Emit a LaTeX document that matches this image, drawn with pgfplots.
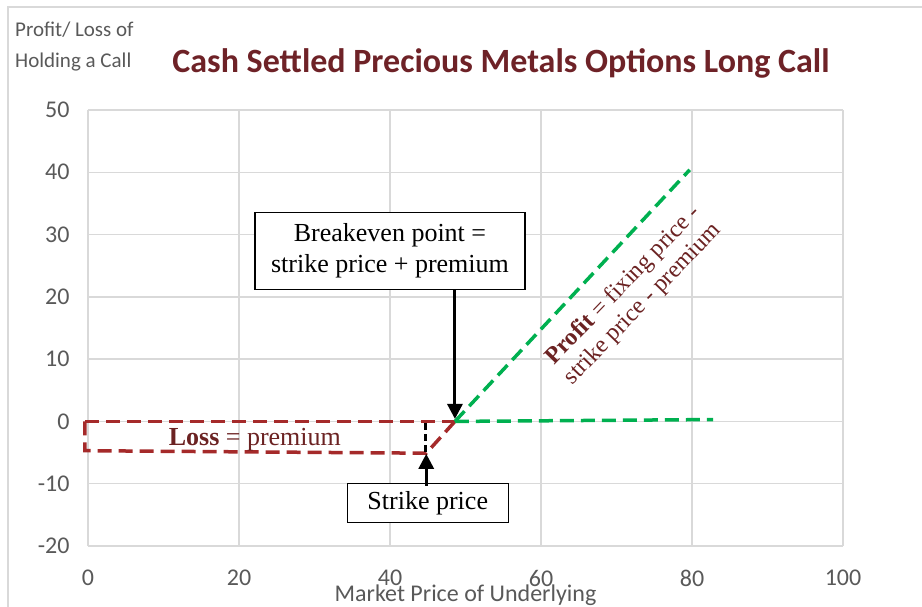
\documentclass[border=0pt]{standalone}
\usepackage{fontspec}
\setmainfont{Carlito}
\newfontfamily\serif{Liberation Serif}
\usepackage{pgfplots}
\pgfplotsset{compat=1.18}
\usetikzlibrary{arrows.meta}
\definecolor{gridgray}{HTML}{D9D9D9}
\definecolor{txtgray}{HTML}{595959}
\definecolor{titlered}{HTML}{6E2227}
\definecolor{lossred}{HTML}{A52A2A}
\definecolor{anntxt}{HTML}{6B2222}
\definecolor{pgreen}{HTML}{00B050}
\begin{document}
\begin{tikzpicture}
\path[use as bounding box] (0,0) rectangle (922bp,607bp);
\clip (0,0) rectangle (922bp,607bp);
\draw[gridgray, line width=1.5bp] (8bp,-10bp) -- (8bp,600bp) -- (940bp,600bp);
\node[font=\bfseries\fontsize{34bp}{40bp}\selectfont, text=titlered] at (501bp,544bp) {Cash Settled Precious Metals Options Long Call};
\node[font=\fontsize{21bp}{31bp}\selectfont, text=txtgray, align=left, anchor=north west, inner sep=0pt] at (15bp,585bp) {Profit/ Loss of\\Holding a Call};
\begin{axis}[
  at={(88bp,61bp)}, anchor=south west,
  scale only axis, width=755bp, height=436bp,
  xmin=0, xmax=100, ymin=-20, ymax=50,
  xtick={0,20,...,100}, ytick={-20,-10,...,50},
  axis line style={draw=none},
  major tick style={draw=none},
  grid=major,
  major grid style={gridgray, line width=1.5bp},
  clip=false,
  /pgf/number format/assume math mode=true,
  tick label style={font=\fontsize{24bp}{28bp}\selectfont, text=txtgray},
  xticklabel style={anchor=center, yshift=-32bp},
  yticklabel style={anchor=east, xshift=-15bp},
  xlabel={Market Price of Underlying},
  xlabel style={font=\fontsize{24bp}{28bp}\selectfont, text=txtgray, at={(axis description cs:0.5,0)}, anchor=center, yshift=-49bp},
]
% loss region (red dashed)
\addplot[lossred, line width=3.5bp, dash pattern=on 14bp off 7bp] coordinates {(-0.4,0) (48.6,0)};
\addplot[lossred, line width=3.5bp, dash pattern=on 14bp off 7bp] coordinates {(-0.4,0) (-0.4,-4.7) (44.8,-5.1) (48.6,0)};
% profit (green dashed)
\addplot[pgreen, line width=3.5bp, dash pattern=on 14bp off 7bp] coordinates {(48.6,0) (79.7,40.4)};
\addplot[pgreen, line width=3.5bp, dash pattern=on 14bp off 7bp] coordinates {(48.6,0) (82.8,0.3)};
% strike vertical
\addplot[black, line width=3bp, dash pattern=on 7bp off 4bp] coordinates {(44.7,-0.3) (44.7,-4.9)};
% annotations
\node[draw=black, line width=1.5bp, fill=white, font=\serif\fontsize{26bp}{31bp}\selectfont, align=center, minimum width=270bp, minimum height=77bp, inner sep=2bp] at (axis cs:40,27.4) {Breakeven point =\\strike price + premium};
\draw[line width=3bp, -{Triangle[length=15bp,width=15bp]}] (axis cs:48.6,21.2) -- (axis cs:48.6,0.4);
\node[draw=black, line width=1.5bp, fill=white, font=\serif\fontsize{26bp}{31bp}\selectfont, minimum width=161bp, minimum height=39bp, inner sep=2bp] at (axis cs:45,-13.1) {Strike price};
\draw[line width=3bp, -{Triangle[length=15bp,width=15bp]}] (axis cs:44.8,-10.3) -- (axis cs:44.8,-5.2);
\node[font=\serif\fontsize{26bp}{28bp}\selectfont, text=anntxt] at (axis cs:22.1,-2.9) {\textbf{Loss} = premium};
\node[font=\serif\fontsize{24bp}{27bp}\selectfont, text=anntxt, align=center, rotate=46] at (axis cs:72.2,20.3) {\textbf{Profit} = fixing price -\\strike price - premium};
\end{axis}
\end{tikzpicture}
\end{document}
